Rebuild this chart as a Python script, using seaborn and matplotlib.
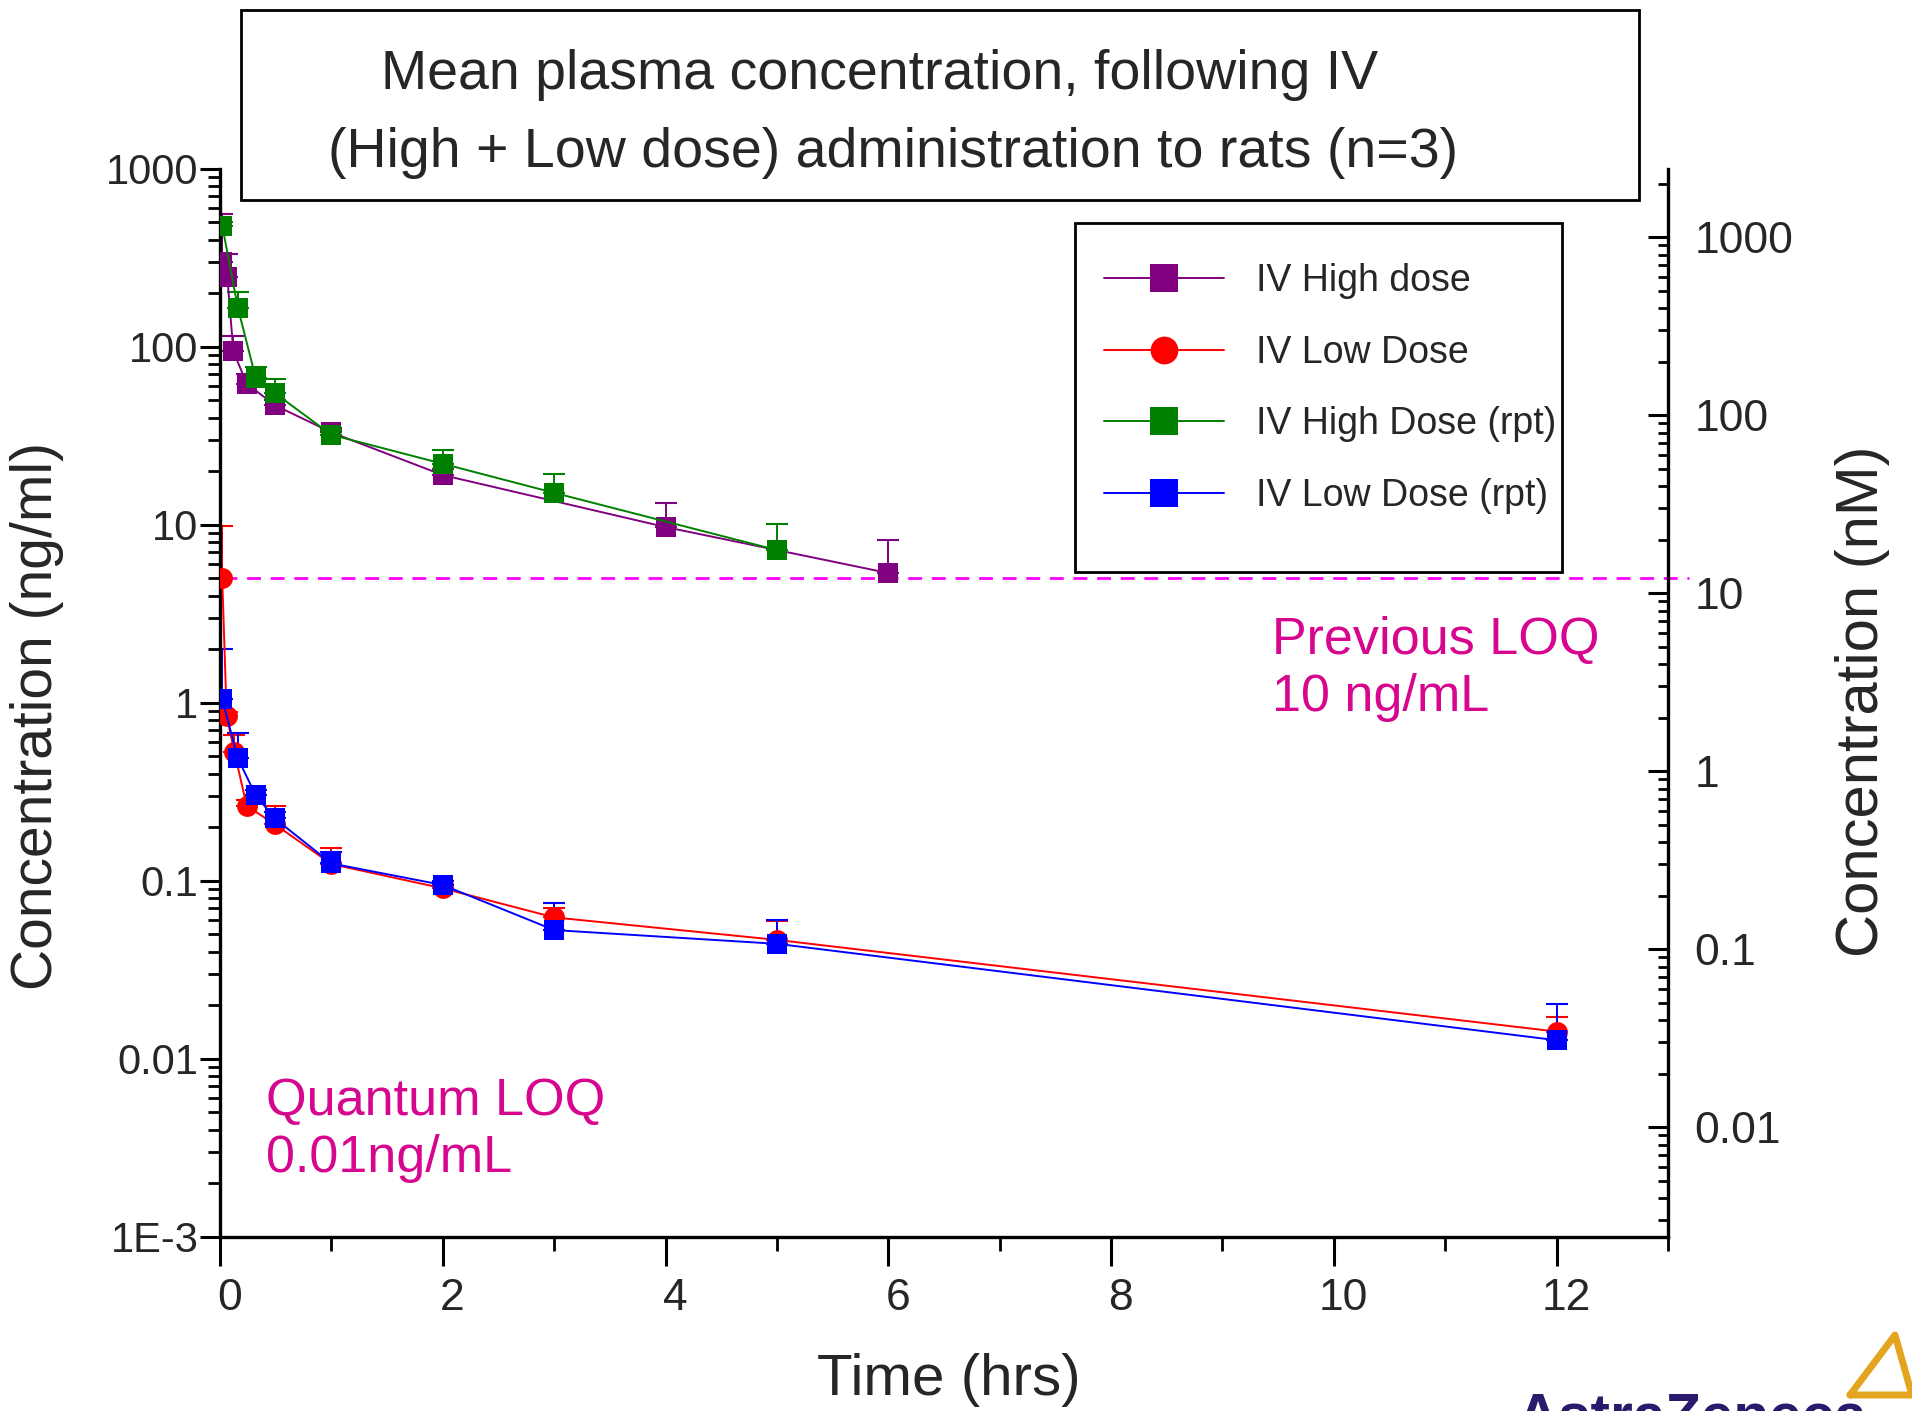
import matplotlib
matplotlib.use("Agg")
import matplotlib.pyplot as plt
import matplotlib.ticker as mtick
import matplotlib.transforms as mtransforms
from matplotlib.lines import Line2D
from matplotlib.patches import Rectangle
import numpy as np
import pandas as pd
import seaborn as sns

# Tempos (h) e concentrações médias (ng/ml)
t_high = [0.02, 0.066, 0.12, 0.24, 0.49, 1, 2, 4, 6]
c_high = [298, 245, 94, 62, 47, 33, 19, 9.7, 5.35]
sd_high = [258, 87, 21, 8, 3, 2, 1.5, 3.6, 2.9]

t_low = [0.02, 0.06, 0.13, 0.24, 0.49, 1, 2, 3, 5, 12]
c_low = [5.0, 0.84, 0.526, 0.263, 0.208, 0.124, 0.0906, 0.0622, 0.0465, 0.0142]
sd_low = [4.8, 0.05, 0.13, 0.02, 0.056, 0.028, 0.005, 0.008, 0.013, 0.003]

t_high_rpt = [0.02, 0.16, 0.32, 0.49, 1, 2, 3, 5]
c_high_rpt = [479, 166, 67, 55, 32, 22, 15.1, 7.2]
sd_high_rpt = [20, 36, 10, 10.6, 2, 4.3, 4.1, 2.9]

t_low_rpt = [0.02, 0.16, 0.32, 0.49, 1, 2, 3, 5, 12]
c_low_rpt = [1.05, 0.487, 0.303, 0.224, 0.125, 0.0946, 0.0528, 0.0442, 0.0127]
sd_low_rpt = [0.95, 0.19, 0.02, 0.02, 0.02, 0.005, 0.022, 0.016, 0.0077]

series_names = ["IV High dose", "IV Low Dose", "IV High Dose (rpt)", "IV Low Dose (rpt)"]
series_colors = ["#800080", "#FF0000", "#008000", "#0000FF"]
series_markers = ["s", "o", "s", "s"]

prev_loq = 5.0      # linha tracejada (ng/ml)
nm_factor = 2.43    # ng/ml -> nM

dados = [
    (t_high, c_high, sd_high),
    (t_low, c_low, sd_low),
    (t_high_rpt, c_high_rpt, sd_high_rpt),
    (t_low_rpt, c_low_rpt, sd_low_rpt),
]
df = pd.concat(
    [pd.DataFrame({"time": t, "conc": c, "sd": s, "serie": nome})
     for (t, c, s), nome in zip(dados, series_names)],
    ignore_index=True,
)

sns.set_theme(style="ticks")
plt.rcParams["font.family"] = ["Liberation Sans", "DejaVu Sans"]

W, H = 1912, 1411
fig = plt.figure(figsize=(W / 100, H / 100), dpi=100)
ax = fig.add_axes([220 / W, 1 - 1236.7 / H, 1448 / W, 1068 / H])

# barras de erro (só a parte de cima) e depois as linhas com marcadores
for nome, cor, mk in zip(series_names, series_colors, series_markers):
    sub = df[df["serie"] == nome]
    ax.errorbar(sub["time"], sub["conc"], yerr=[np.zeros(len(sub)), sub["sd"]],
                fmt="none", ecolor=cor, elinewidth=1.4, capsize=8, capthick=1.5,
                zorder=2)
    sns.lineplot(data=sub, x="time", y="conc", color=cor, estimator=None,
                 marker=mk, markersize=15, markeredgewidth=0, linewidth=1.4,
                 ax=ax, legend=False, zorder=3)

ax.set_yscale("log")
ax.set_ylim(1e-3, 1000)
ax.set_xlim(0, 13)
ax.set_xlabel("")
ax.set_ylabel("")

ax.xaxis.set_major_locator(mtick.MultipleLocator(2))
ax.xaxis.set_minor_locator(mtick.MultipleLocator(1))
ax.yaxis.set_minor_locator(mtick.LogLocator(base=10, subs=np.arange(2, 10), numticks=100))
ax.yaxis.set_minor_formatter(mtick.NullFormatter())
ax.set_yticks([1e-3, 1e-2, 0.1, 1, 10, 100, 1000])
ax.set_yticklabels(["1E-3", "0.01", "0.1", "1", "10", "100", "1000"])

for lado in ["top", "right"]:
    ax.spines[lado].set_visible(False)
for lado in ["left", "bottom"]:
    ax.spines[lado].set_linewidth(2.4)
    ax.spines[lado].set_color("black")

ax.tick_params(axis="y", which="major", direction="out", length=14.5, width=2.2,
               labelsize=30, pad=1, color="black")
ax.tick_params(axis="y", which="minor", direction="out", length=8.5, width=2.0, color="black")
ax.tick_params(axis="x", which="major", direction="out", length=21, width=2.2,
               labelsize=32, pad=9, color="black")
ax.tick_params(axis="x", which="minor", direction="out", length=10, width=2.0, color="black")
desloc = mtransforms.ScaledTranslation(7 / 72, 0, fig.dpi_scale_trans)
for lab in ax.get_xticklabels():
    lab.set_transform(lab.get_transform() + desloc)

# eixo da direita em nM
ax2 = ax.twinx()
ax2.set_yscale("log")
ax2.set_ylim(1e-3 * nm_factor, 1000 * nm_factor)
ax2.set_yticks([0.01, 0.1, 1, 10, 100, 1000])
ax2.set_yticklabels(["0.01", "0.1", "1", "10", "100", "1000"])
ax2.yaxis.set_minor_locator(mtick.LogLocator(base=10, subs=np.arange(2, 10), numticks=100))
ax2.yaxis.set_minor_formatter(mtick.NullFormatter())
for lado in ["top", "left", "bottom"]:
    ax2.spines[lado].set_visible(False)
ax2.spines["right"].set_linewidth(2.4)
ax2.spines["right"].set_color("black")
ax2.tick_params(axis="y", which="major", direction="in", length=14.5, width=2.2,
                labelsize=32, pad=19, color="black")
ax2.tick_params(axis="y", which="minor", direction="in", length=7.5, width=2.0, color="black")

# linha do LOQ anterior
ax.plot([0.03, 13.19], [prev_loq, prev_loq], color="#FF00FF", linewidth=2.0,
        linestyle=(0, (5, 3.5)), clip_on=False, zorder=1)

# títulos e rótulos
fig.text(37 / W, 1 - 716 / H, "Concentration (ng/ml)", rotation=90, fontsize=41,
         ha="center", va="center")
fig.text(1862 / W, 1 - 701 / H, "Concentration (nM)", rotation=90, fontsize=43,
         ha="center", va="center")
fig.text(949 / W, 1 - 1395 / H, "Time (hrs)", fontsize=42, ha="center", va="baseline")

fig.patches.append(Rectangle((241 / W, 1 - 200 / H), 1398 / W, 190 / H,
                             transform=fig.transFigure, fill=False,
                             edgecolor="black", linewidth=2.0))
fig.text(880 / W, 1 - 75 / H, "Mean plasma concentration, following IV",
         fontsize=40, ha="center", va="center")
fig.text(893 / W, 1 - 153 / H, "(High + Low dose) administration to rats (n=3)",
         fontsize=40, ha="center", va="center")

cor_loq = "#D6068F"
fig.text(1272 / W, 1 - 669 / H, "Previous LOQ\n10 ng/mL", fontsize=37.5,
         color=cor_loq, ha="left", va="center", linespacing=1.2)
fig.text(266 / W, 1 - 1130 / H, "Quantum LOQ\n0.01ng/mL", fontsize=37.5,
         color=cor_loq, ha="left", va="center", linespacing=1.2)

# legenda com caixa própria
fig.patches.append(Rectangle((1075 / W, 1 - 572 / H), 487 / W, 349 / H,
                             transform=fig.transFigure, fill=False,
                             edgecolor="black", linewidth=2.0))
handles = [Line2D([], [], color=c, marker=m, markersize=20, markeredgewidth=0, linewidth=1.4)
           for c, m in zip(series_colors, series_markers)]
leg = ax.legend(handles, series_names, loc="upper left",
                bbox_to_anchor=(1104 / W, 1 - 263 / H), bbox_transform=fig.transFigure,
                frameon=False, fontsize=27, handlelength=3.2, handletextpad=0.85,
                labelspacing=0.95, borderpad=0, borderaxespad=0)
leg.set_zorder(10)

# logotipo (parcialmente cortado, como no original)
fig.text(1517 / W, 1 - 1434 / H, "AstraZeneca", fontsize=42, color="#2B1A6B",
         fontweight="bold", ha="left", va="baseline")
fig.lines.append(Line2D([1850 / W, 1895 / W, 1912 / W, 1850 / W],
                        [1 - 1395 / H, 1 - 1335 / H, 1 - 1395 / H, 1 - 1395 / H],
                        transform=fig.transFigure, color="#E3A520", linewidth=5))

fig.savefig("out.png", dpi=100)
